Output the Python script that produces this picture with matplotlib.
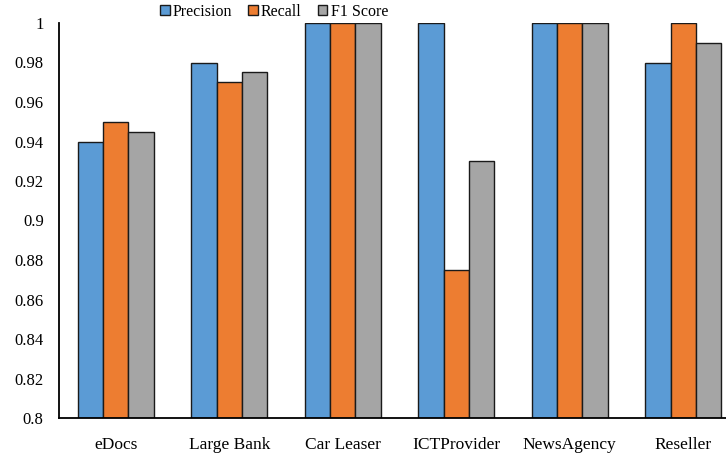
import matplotlib
matplotlib.use("Agg")
import matplotlib.pyplot as plt
import numpy as np

categories = ["eDocs", "Large Bank", "Car Leaser", "ICTProvider", "NewsAgency", "Reseller"]
precision = [0.94, 0.98, 1.0, 1.0, 1.0, 0.98]
recall = [0.95, 0.97, 1.0, 0.875, 1.0, 1.0]
f1 = [0.945, 0.975, 1.0, 0.93, 1.0, 0.99]
series_names = ["Precision", "Recall", "F1 Score"]
colors = ["#5B9BD5", "#ED7D31", "#A5A5A5"]
yticks = [0.8, 0.82, 0.84, 0.86, 0.88, 0.9, 0.92, 0.94, 0.96, 0.98, 1.0]
ytick_labels = ["0.8", "0.82", "0.84", "0.86", "0.88", "0.9", "0.92", "0.94", "0.96", "0.98", "1"]

plt.rcParams['font.family'] = ['Liberation Serif', 'DejaVu Serif']

fig = plt.figure(figsize=(7.26, 4.54), dpi=100)
ax = fig.add_axes([59/726, 36/454, (726-59)/726, (418-23)/454])

x = np.arange(len(categories))
w = 0.223
for i, (vals, name, c) in enumerate(zip([precision, recall, f1], series_names, colors)):
    ax.bar(x + (i - 1) * w, np.array(vals) - 0.8, w, bottom=0.8, color=c,
           edgecolor="#1a1a1a", linewidth=1.0, label=name)

ax.set_ylim(0.8, 1.0)
ax.set_xlim(-0.5, -0.5 + (726-59)/113.5)
ax.set_yticks(yticks)
ax.set_yticklabels(ytick_labels, fontsize=12)
ax.set_xticks(x)
ax.set_xticklabels(categories, fontsize=12.5)
ax.tick_params(axis='both', length=0)
ax.tick_params(axis='x', pad=14)
ax.tick_params(axis='y', pad=11)
for s in ["top", "right"]:
    ax.spines[s].set_visible(False)
ax.spines["left"].set_linewidth(1.3)
ax.spines["bottom"].set_linewidth(1.3)

leg = ax.legend(loc="center", bbox_to_anchor=(274/726, 1 - 12/454), bbox_transform=fig.transFigure,
                ncol=3, frameon=False, fontsize=11.5, handlelength=0.6, handleheight=0.6,
                handletextpad=0.2, columnspacing=1.0, borderpad=0)

fig.savefig("out.png", dpi=100)
